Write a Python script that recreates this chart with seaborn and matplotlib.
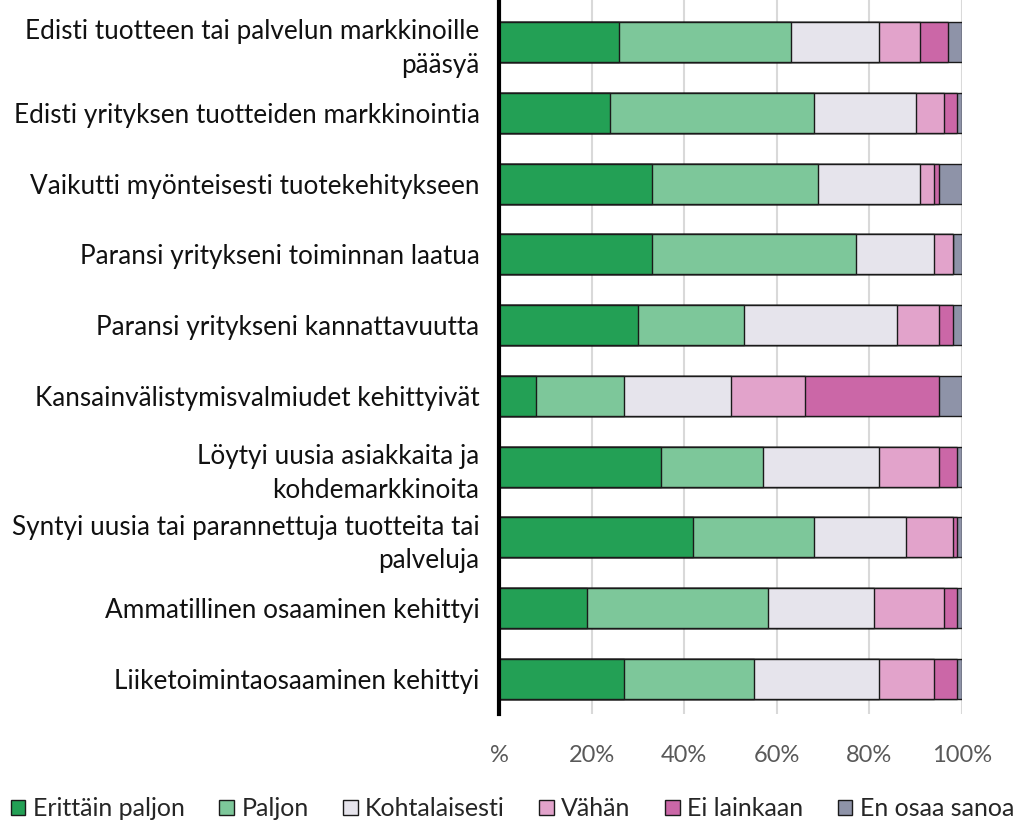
import numpy as np
import pandas as pd
import seaborn as sns
import matplotlib.pyplot as plt
from matplotlib.patches import Patch

sns.set_style('white')
plt.rcParams['font.family'] = ['Lato', 'DejaVu Sans']

statements = [
    'Edisti tuotteen tai palvelun markkinoille\npääsyä',
    'Edisti yrityksen tuotteiden markkinointia',
    'Vaikutti myönteisesti tuotekehitykseen',
    'Paransi yritykseni toiminnan laatua',
    'Paransi yritykseni kannattavuutta',
    'Kansainvälistymisvalmiudet kehittyivät',
    'Löytyi uusia asiakkaita ja\nkohdemarkkinoita',
    'Syntyi uusia tai parannettuja tuotteita tai\npalveluja',
    'Ammatillinen osaaminen kehittyi',
    'Liiketoimintaosaaminen kehittyi',
]

answers = ['Erittäin paljon', 'Paljon', 'Kohtalaisesti', 'Vähän', 'Ei lainkaan', 'En osaa sanoa']

erittain_paljon = [26, 24, 33, 33, 30, 8, 35, 42, 19, 27]
paljon = [37, 44, 36, 44, 23, 19, 22, 26, 39, 28]
kohtalaisesti = [19, 22, 22, 17, 33, 23, 25, 20, 23, 27]
vahan = [9, 6, 3, 4, 9, 16, 13, 10, 15, 12]
ei_lainkaan = [6, 3, 1, 0, 3, 29, 4, 1, 3, 5]
en_osaa = [3, 1, 5, 2, 2, 5, 1, 1, 1, 1]

colors = ['#23a055', '#7dc79a', '#e6e4ec', '#e2a3cb', '#cb67a7', '#8e93a8']

tick_values = [0, 20, 40, 60, 80, 100]
tick_labels = ['%', '20%', '40%', '60%', '80%', '100%']

df = pd.DataFrame({'statement': statements})
series = [erittain_paljon, paljon, kohtalaisesti, vahan, ei_lainkaan, en_osaa]
cum = np.cumsum(np.array(series), axis=0)
for name, row in zip(answers, cum):
    df[name] = row

fig = plt.figure(figsize=(10.19, 8.32), dpi=100)
ax = fig.add_axes([0.4897, 0.1418, 0.4544, 0.8582])

for xg in tick_values:
    ax.axvline(xg, color='#d9d9d9', lw=1.5, zorder=0)

# draw cumulative bars from the longest to the shortest so they stack
for name, color in reversed(list(zip(answers, colors))):
    sns.barplot(data=df, x=name, y='statement', color=color, orient='h',
                width=0.565, edgecolor='#1a1a1a', linewidth=1.0, ax=ax,
                order=statements, saturation=1, zorder=2)

ax.set_xlim(0, 100)
ax.set_ylim(9.494, -0.593)
ax.set_xlabel('')
ax.set_ylabel('')
ax.set_xticks(tick_values)
ax.set_xticklabels(tick_labels)
ax.tick_params(axis='x', length=0, pad=22, labelsize=17, labelcolor='#595959')
ax.tick_params(axis='y', length=0, pad=14, labelsize=18.8, labelcolor='#111111')
for lbl in ax.get_yticklabels():
    lbl.set_linespacing(1.42)

for side in ['top', 'right', 'bottom']:
    ax.spines[side].set_visible(False)
ax.spines['left'].set_linewidth(3)
ax.spines['left'].set_color('black')
ax.spines['left'].set_zorder(5)

handles = [Patch(facecolor=c, edgecolor='#1a1a1a', linewidth=1.0) for c in colors]
fig.legend(handles, answers, loc='center', bbox_to_anchor=(0.503, 0.028), ncol=6,
           frameon=False, fontsize=18, handlelength=0.58, handleheight=0.58,
           handletextpad=0.3, columnspacing=1.38)

fig.savefig('out.png', dpi=100)
